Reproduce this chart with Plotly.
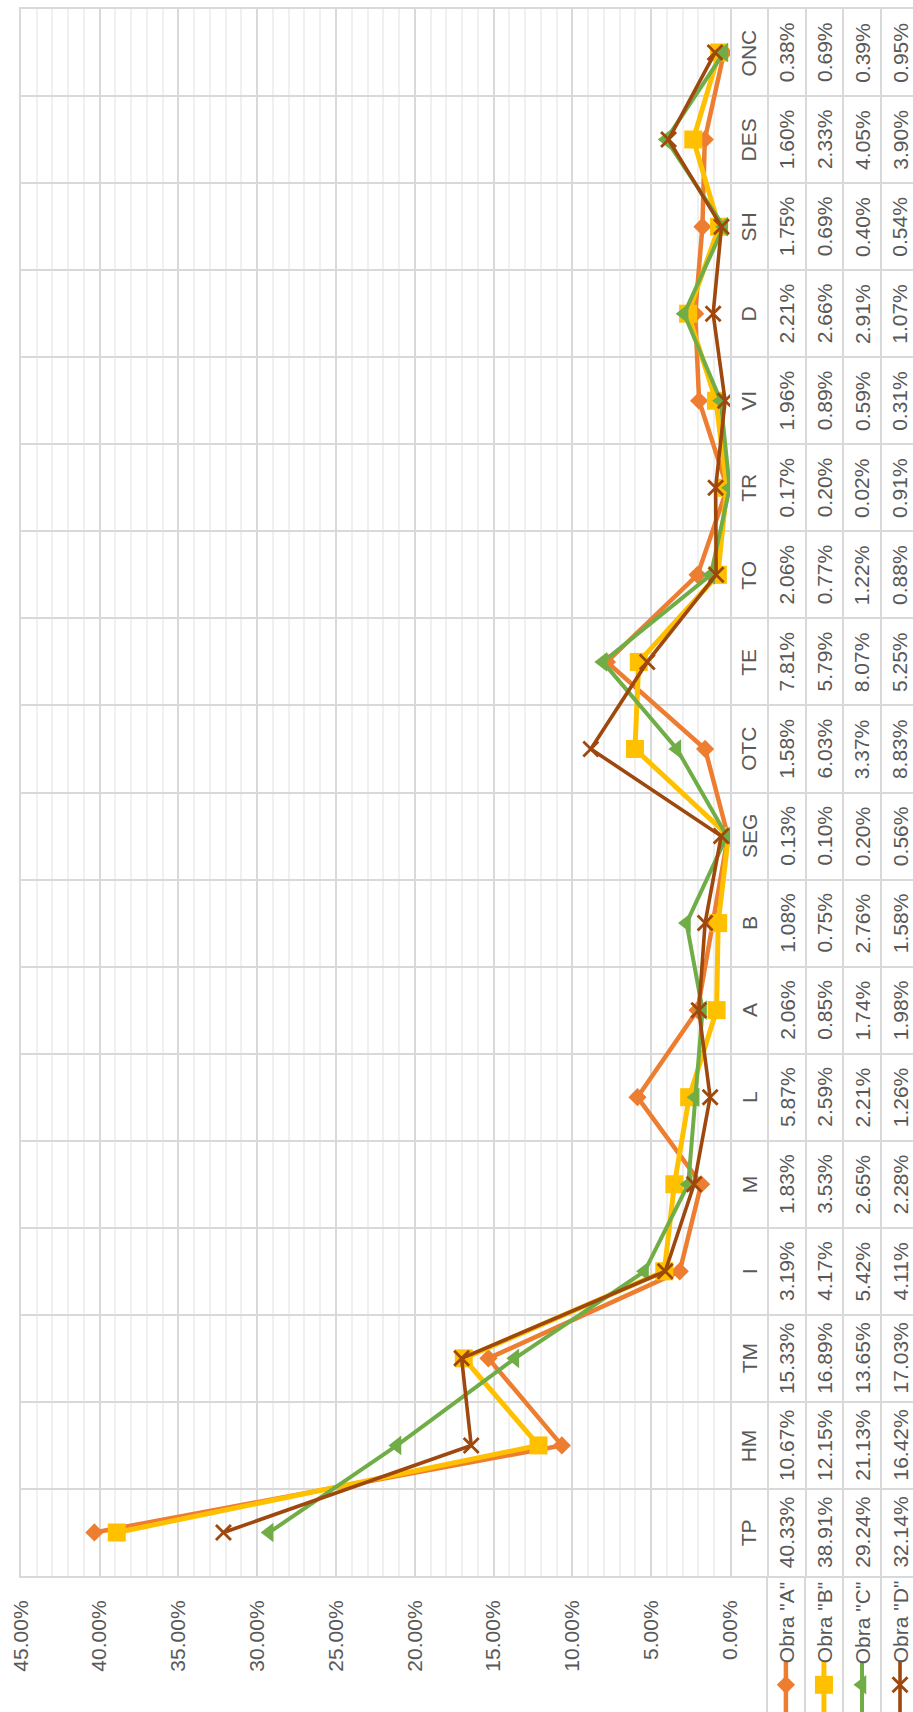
import plotly.graph_objects as go

# Categories (activity codes) and percentage share per work site
categories = ["TP", "HM", "TM", "I", "M", "L", "A", "B", "SEG", "OTC",
              "TE", "TO", "TR", "VI", "D", "SH", "DES", "ONC"]
series_names = ['Obra "A"', 'Obra "B"', 'Obra "C"', 'Obra "D"']
obra_a = [40.33, 10.67, 15.33, 3.19, 1.83, 5.87, 2.06, 1.08, 0.13, 1.58,
          7.81, 2.06, 0.17, 1.96, 2.21, 1.75, 1.60, 0.38]
obra_b = [38.91, 12.15, 16.89, 4.17, 3.53, 2.59, 0.85, 0.75, 0.10, 6.03,
          5.79, 0.77, 0.20, 0.89, 2.66, 0.69, 2.33, 0.69]
obra_c = [29.24, 21.13, 13.65, 5.42, 2.65, 2.21, 1.74, 2.76, 0.20, 3.37,
          8.07, 1.22, 0.02, 0.59, 2.91, 0.40, 4.05, 0.39]
obra_d = [32.14, 16.42, 17.03, 4.11, 2.28, 1.26, 1.98, 1.58, 0.56, 8.83,
          5.25, 0.88, 0.91, 0.31, 1.07, 0.54, 3.90, 0.95]
value_ticks = [0, 5, 10, 15, 20, 25, 30, 35, 40, 45]

series_values = [obra_a, obra_b, obra_c, obra_d]
colors = ["#ED7D31", "#FFC000", "#70AD47", "#9E480E"]
symbols = ["diamond", "square", "triangle-left", "x-thin"]
msizes = [14, 18, 17, 15]
lwidths = [4.5, 5, 4, 3.6]

W, H = 913, 1712
FONT = "Liberation Sans Narrow, Arial Narrow, sans-serif"
TXT = "#595959"
GRID = "#D9D9D9"
MINOR = "#F0F0F0"
FS = 21

# pixel frame of the plotting area
left, right, top, bottom = 20.8, 730.0, 9.0, 1576.0
col_w = 37.8
xdom = [left / W, right / W]
ydom = [(H - bottom) / H, (H - top) / H]
tdom = [right / W, 1.0]
trange = (W - right) / col_w


def marker(sym, size, color):
    mk = dict(symbol=sym, size=size, color=color)
    if sym.startswith("x"):
        mk["line"] = dict(color=color, width=2.8)
    return mk


fig = go.Figure()

for name, vals, c, s, ms, lw in zip(series_names, series_values, colors,
                                     symbols, msizes, lwidths):
    fig.add_trace(go.Scatter(
        x=vals, y=categories, mode="lines+markers", name=name,
        line=dict(color=c, width=lw), marker=marker(s, ms, c),
        xaxis="x", yaxis="y", showlegend=False,
    ))

# empty trace so the table panel exists as a subplot
fig.add_trace(go.Scatter(x=[None], y=[None], xaxis="x2", yaxis="y",
                         showlegend=False, hoverinfo="skip"))

# legend keys drawn in the strip below the table
for j, (name, c, s, ms, lw) in enumerate(zip(series_names, colors, symbols,
                                              msizes, lwidths)):
    xc = j + 1.5
    fig.add_trace(go.Scatter(x=[xc, xc], y=[-0.2, 0.37], mode="lines",
                             line=dict(color=c, width=lw), xaxis="x3",
                             yaxis="y3", showlegend=False, hoverinfo="skip"))
    fig.add_trace(go.Scatter(x=[xc], y=[0.2], mode="markers",
                             marker=marker(s, ms, c),
                             xaxis="x3", yaxis="y3", showlegend=False,
                             hoverinfo="skip"))
    fig.add_annotation(x=xc, y=0.66, xref="x3", yref="y3", text=name,
                       textangle=-90, showarrow=False,
                       font=dict(family=FONT, size=FS, color=TXT))

# data table: category codes and values
for i, cat in enumerate(categories):
    fig.add_annotation(x=0.5, y=cat, xref="x2", yref="y", text=cat,
                       textangle=-90, showarrow=False,
                       font=dict(family=FONT, size=FS, color=TXT))
    for j, vals in enumerate(series_values):
        fig.add_annotation(x=j + 1.5, y=cat, xref="x2", yref="y",
                           text=f"{vals[i]:.2f}%", textangle=-90,
                           showarrow=False,
                           font=dict(family=FONT, size=FS, color=TXT))

fig.update_layout(
    width=W, height=H,
    margin=dict(l=0, r=0, t=0, b=0, autoexpand=False),
    paper_bgcolor="white", plot_bgcolor="white",
    font=dict(family=FONT, size=FS, color=TXT),
    xaxis=dict(
        domain=xdom, range=[45, 0], anchor="y", automargin=False,
        tickmode="array", tickvals=value_ticks,
        ticktext=[f"{v:.2f}%" for v in value_ticks],
        tickangle=-90, ticks="", ticklabelstandoff=14,
        tickfont=dict(family=FONT, size=FS, color=TXT),
        showgrid=True, gridcolor=GRID, gridwidth=2, zeroline=False,
        minor=dict(dtick=1, tick0=0, showgrid=True, gridcolor=MINOR,
                   gridwidth=2, ticks=""),
        showline=True, linecolor=GRID, linewidth=2, mirror=True,
    ),
    yaxis=dict(
        domain=ydom, type="category", categoryorder="array",
        categoryarray=categories, range=[-0.5, len(categories) - 0.5],
        anchor="x", automargin=False, tickson="boundaries", ticks="",
        showticklabels=False,
        showgrid=True, gridcolor=GRID, gridwidth=2,
        showline=True, linecolor=GRID, linewidth=2, mirror=True,
    ),
    xaxis2=dict(
        domain=tdom, range=[0, trange], anchor="y", automargin=False,
        tick0=0, dtick=1, ticks="", showticklabels=False,
        showgrid=True, gridcolor=GRID, gridwidth=2, zeroline=False,
        showline=True, linecolor=GRID, linewidth=2, mirror=True,
    ),
    xaxis3=dict(
        domain=tdom, range=[0.03, trange], anchor="y3", automargin=False,
        tick0=0, dtick=1, ticks="", showticklabels=False,
        showgrid=True, gridcolor=GRID, gridwidth=2, zeroline=False,
    ),
    yaxis3=dict(
        domain=[0, ydom[0]], range=[0, 1], anchor="x3", automargin=False,
        showgrid=False, showticklabels=False, ticks="", zeroline=False,
    ),
)

fig.write_html("out.html")
